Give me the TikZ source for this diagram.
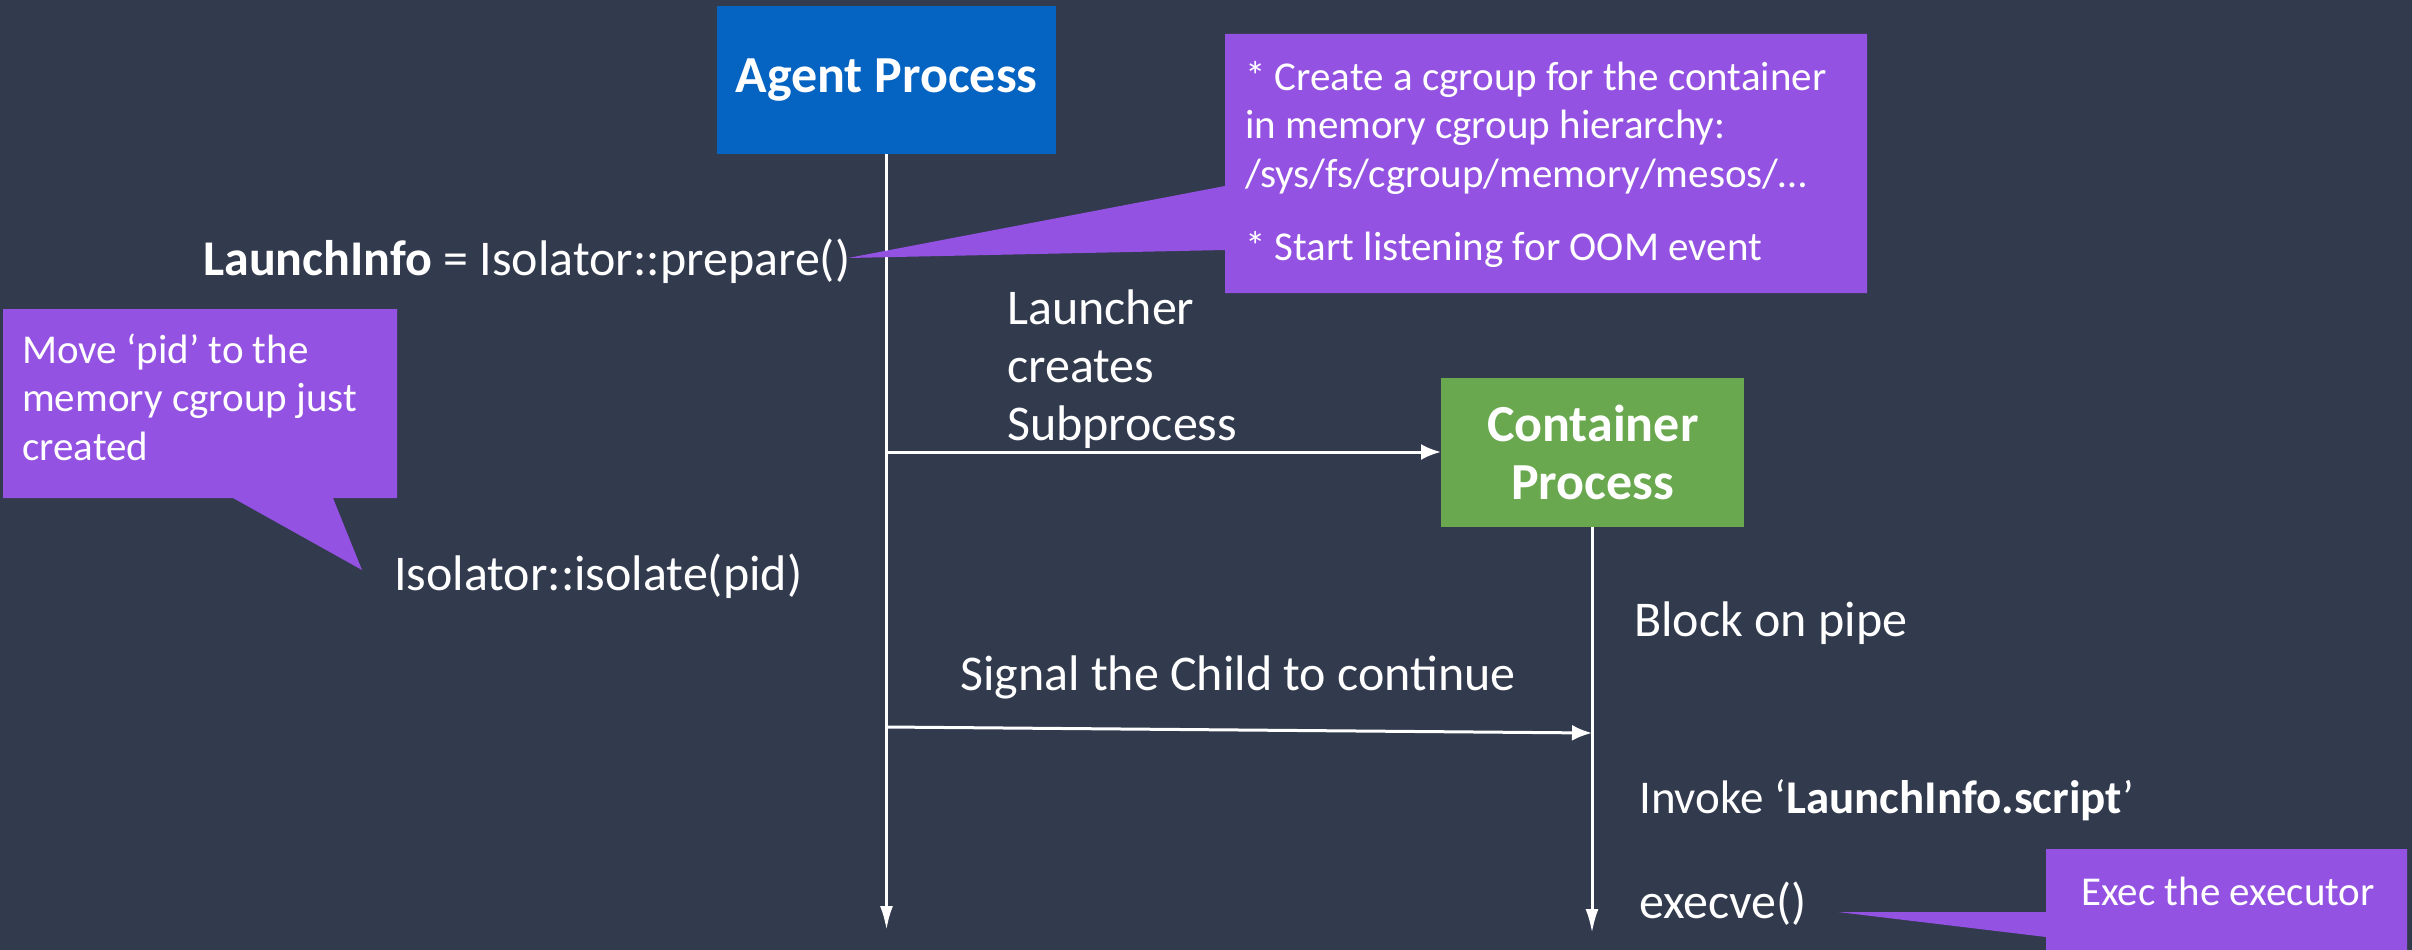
\documentclass[tikz,border=0pt]{standalone}
\usepackage{fontspec}
\setmainfont{Carlito}
\usetikzlibrary{arrows.meta}
\definecolor{bgdark}{HTML}{323A4E}
\definecolor{agentblue}{HTML}{0563C1}
\definecolor{contgreen}{HTML}{6AA84F}
\definecolor{notepurple}{HTML}{9452E2}
\tikzset{
  x=1pt, y=-1pt,
  label/.style={text=white, inner sep=0pt, anchor=base west, align=left},
  bigtext/.style={font=\fontsize{50}{58}\selectfont},
  notetext/.style={font=\fontsize{41}{48.5}\selectfont},
  procbox/.style={text=white, inner sep=0pt, anchor=north west, align=center,
    font=\bfseries\fontsize{52}{58}\selectfont},
  lifeline/.style={draw=white, line width=3pt, -{Latex[length=24pt,width=13pt]}},
  message/.style={draw=white, line width=3pt, -{Latex[length=20pt,width=16pt]}},
  callout/.style={fill=notepurple, draw=none},
}
\begin{document}
\begin{tikzpicture}
  % canvas
  \fill[bgdark] (0,0) rectangle (2412,950);
  \useasboundingbox (0,0) rectangle (2412,950);

  % process boxes
  \node[procbox, fill=agentblue, minimum width=339pt, minimum height=148pt] (agent) at (717,6) {Agent Process};
  \node[procbox, fill=contgreen, minimum width=303pt, minimum height=149pt] (cont) at (1441,378) {Container\\Process};

  % lifeline end points
  \coordinate (agentEnd) at (886.5,930);
  \coordinate (contEnd) at (1592,933);
  \coordinate (agentTop) at (agent.south -| agentEnd);
  \coordinate (contTop) at (cont.south -| contEnd);
  \coordinate (spawnFrom) at (886.5,452);
  \coordinate (signalFrom) at (886.5,727);
  \coordinate (signalTo) at (1592,733);

  % lifelines
  \draw[lifeline] (agentTop) -- (agentEnd);
  \draw[lifeline] (contTop) -- (contEnd);

  % messages
  \draw[message] (spawnFrom) -- (spawnFrom -| cont.west);
  \draw[message] (signalFrom) -- (signalTo);

  % callout shapes
  \fill[callout] (1225,34) -- (1867,34) -- (1867,293) -- (1225,293) -- (1225,250) -- (848,258) -- (1225,186) -- cycle;
  \fill[callout] (3,309) -- (397,309) -- (397,498) -- (333,498) -- (362,570) -- (233,498) -- (3,498) -- cycle;
  \fill[callout] (2046,849) -- (2407,849) -- (2407,950) -- (2046,950) -- (2046,937) -- (1838,912) -- (2046,912) -- cycle;

  % texts along the agent lifeline
  \node[label, bigtext] (prep) at (203,275) {\textbf{LaunchInfo} = Isolator::prepare()};
  \node[label, bigtext] (isol) at (394,590) {Isolator::isolate(pid)};
  \node[label, bigtext] (launch) at (1007,440) {Launcher\\creates\\Subprocess};
  \node[label, bigtext] (signal) at (960,690) {Signal the Child to continue};

  % texts along the container lifeline
  \node[label, bigtext] (block) at (1634,636) {Block on pipe};
  \node[label, font=\fontsize{47}{58}\selectfont] (invoke) at (1639,813) {Invoke ‘\textbf{LaunchInfo.script}’};
  \node[label, bigtext] (exec) at (1639,918) {execve()};

  % callout texts
  \node[label, notetext] (noteA) at (1245,187) {* Create a cgroup for the container\\in memory cgroup hierarchy:\\/sys/fs/cgroup/memory/mesos/…};
  \node[label, notetext] (noteB) at (1245,260) {* Start listening for OOM event};
  \node[label, notetext] (noteC) at (22,460) {Move ‘pid’ to the\\memory cgroup just\\created};
  \node[label, notetext] (noteD) at (2081,905) {Exec the executor};
\end{tikzpicture}
\end{document}
